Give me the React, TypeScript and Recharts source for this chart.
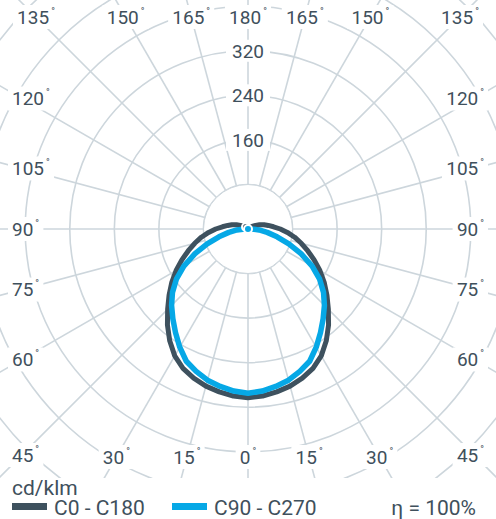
import React from "react";
import {
  RadarChart,
  Radar,
  PolarGrid,
  PolarAngleAxis,
  PolarRadiusAxis,
  Legend,
} from "recharts";

// gamma angles of the measurement, 0 = straight down, 180 = straight up
const gammaAngles = [
  0, 5, 10, 15, 20, 25, 30, 35, 40, 45, 50, 55, 60, 65, 70, 75, 80, 85, 90,
  95, 100, 105, 110, 115, 120, 125, 130, 135, 140, 145, 150, 155, 160, 165,
  170, 175, 180,
];

// cd/klm, C0 - C180 plane (symmetric, same values on both halves)
const planeC0 = [
  303, 301, 297, 292, 285, 276, 263, 245, 225, 204, 185, 167, 149, 131, 114,
  99, 85, 71, 58, 46, 37, 30, 22, 15, 10, 7, 5, 5, 4, 4, 4, 4, 3, 3, 3, 3, 3,
];
const planeC180 = planeC0;

// cd/klm, C90 - C270 plane
const planeC90 = [
  295, 292, 287, 281, 272, 262, 245, 227, 210, 194, 177, 157, 133, 105, 78, 54,
  35, 20, 6, 0, 0, 0, 0, 0, 0, 0, 0, 0, 0, 0, 0, 0, 0, 0, 0, 0, 0,
];
const planeC270 = planeC90;

const radiusTicks = [80, 160, 240, 320, 400, 480, 560, 640];
const labelledRadii = [160, 240, 320];
const gridAngles = [
  0, 15, 30, 45, 60, 75, 90, 105, 120, 135, 150, 165, 180, 195, 210, 225, 240,
  255, 270, 285, 300, 315, 330, 345,
];

const seriesNames = ["C0 - C180", "C90 - C270"];
const efficiency = "η = 100%";
const unitLabel = "cd/klm";

const DARK = "#3e515e";
const BLUE = "#06a8e6";
const GRID = "#cdd6dc";
const TEXT = "#3f505c";
const FONT = "Roboto, 'Liberation Sans', sans-serif";

const W = 496;
const H = 478;
const CX = 248;
const CY = 229;
const PX_PER_UNIT = 0.557;
const INNER = 80 * PX_PER_UNIT;
const OUTER = 640 * PX_PER_UNIT;

// left half: C180 / C270 going gamma 0 -> 180, right half: C0 / C90 coming back
const data = [
  ...gammaAngles.map((g, i) => ({
    key: `L${g}`,
    c0: planeC180[i],
    c90: planeC270[i],
  })),
  ...gammaAngles
    .slice(1, -1)
    .reverse()
    .map((g) => {
      const i = gammaAngles.indexOf(g);
      return { key: `R${g}`, c0: planeC0[i], c90: planeC90[i] };
    }),
];

const BOX = { left: 22, right: 474, top: 17, bottom: 457 };

function AngleTick(props: any) {
  const key: string = String(props.payload?.value ?? "");
  const side = key[0];
  const gamma = Number(key.slice(1));
  if (!key || gamma % 15 !== 0) return <g />;
  const rad = (gamma * Math.PI) / 180;
  const dx = (side === "L" ? -1 : 1) * Math.sin(rad);
  const dy = Math.cos(rad);
  const eps = 1e-9;
  const tx =
    dx < -eps ? (BOX.left - CX) / dx : dx > eps ? (BOX.right - CX) / dx : Infinity;
  const ty =
    dy < -eps ? (BOX.top - CY) / dy : dy > eps ? (BOX.bottom - CY) / dy : Infinity;
  const label = String(gamma);
  const w = label.length * 10.7 + 6;
  let x: number;
  let y: number;
  let anchor: "start" | "middle" | "end";
  let rx: number;
  if (ty <= tx) {
    x = CX + dx * ty;
    y = dy < 0 ? BOX.top : BOX.bottom;
    anchor = "middle";
    rx = x - w / 2;
  } else {
    y = CY + dy * tx;
    if (dx < 0) {
      x = 12;
      anchor = "start";
      rx = x;
    } else {
      x = 484;
      anchor = "end";
      rx = x - w;
    }
  }
  return (
    <g>
      <rect x={rx - 4} y={y - 12} width={w + 8} height={24} fill="#fff" />
      <text
        x={x}
        y={y}
        dy="0.36em"
        textAnchor={anchor}
        fill={TEXT}
        fontSize={19}
        fontFamily={FONT}
      >
        {label}
        <tspan fontSize={10} dy="-0.9em" dx="2">
          °
        </tspan>
      </text>
    </g>
  );
}

function RadiusTick(props: any) {
  const v = props.payload?.value;
  if (!labelledRadii.includes(v)) return <g />;
  return (
    <g>
      <rect x={props.x - 22} y={props.y - 11} width={44} height={22} fill="#fff" />
      <text
        x={props.x}
        y={props.y}
        dy="0.36em"
        textAnchor="middle"
        fill={TEXT}
        fontSize={19}
        fontFamily={FONT}
      >
        {v}
      </text>
    </g>
  );
}

function LegendBox({ payload }: any) {
  const items = payload ?? [];
  const positions = [12, 172];
  return (
    <svg width={W} height={45} style={{ display: "block" }}>
      <text x={12} y={21} fill={TEXT} fontSize={21} fontFamily={FONT}>
        {unitLabel}
      </text>
      {items.map((item: any, i: number) => (
        <g key={item.value}>
          <rect x={positions[i]} y={29} width={35} height={7} fill={item.color} />
          <text x={positions[i] + 42} y={41} fill={TEXT} fontSize={21} fontFamily={FONT}>
            {item.value}
          </text>
        </g>
      ))}
      <text x={476} y={41} textAnchor="end" fill={TEXT} fontSize={21} fontFamily={FONT}>
        {efficiency}
      </text>
    </svg>
  );
}

const chartProps = {
  width: W,
  height: H,
  data,
  cx: CX,
  cy: CY,
  outerRadius: OUTER,
  startAngle: -90,
  endAngle: -450,
  margin: { top: 0, right: 0, bottom: 0, left: 0 },
};

export default function App() {
  return (
    <div style={{ position: "absolute", left: 0, top: 0, width: W, height: 519, background: "#fff" }}>
      {/* grid and labels */}
      <div style={{ position: "absolute", left: 0, top: 0, zIndex: 1 }}>
        <RadarChart {...chartProps}>
          <PolarGrid gridType="circle" polarAngles={gridAngles} stroke={GRID} strokeWidth={1.6} />
          <PolarAngleAxis dataKey="key" axisLine={false} tickLine={false} tick={<AngleTick />} />
          <PolarRadiusAxis
            angle={90}
            type="number"
            domain={[0, 640]}
            allowDataOverflow
            ticks={radiusTicks}
            axisLine={false}
            tickLine={false}
            tick={<RadiusTick />}
          />
        </RadarChart>
      </div>
      {/* radial lines start at the first ring: blank the middle */}
      <div
        style={{
          position: "absolute",
          zIndex: 2,
          boxSizing: "border-box",
          left: CX - INNER - 0.8,
          top: CY - INNER - 0.8,
          width: 2 * INNER + 1.6,
          height: 2 * INNER + 1.6,
          borderRadius: "50%",
          border: `1.6px solid ${GRID}`,
          background: "#fff",
        }}
      />
      {/* the two curves */}
      <div style={{ position: "absolute", left: 0, top: 0, zIndex: 3 }}>
        <RadarChart {...chartProps}>
          <PolarAngleAxis dataKey="key" axisLine={false} tickLine={false} tick={false} />
          <PolarRadiusAxis
            angle={90}
            type="number"
            domain={[0, 640]}
            allowDataOverflow
            axisLine={false}
            tickLine={false}
            tick={false}
          />
          <Radar
            name={seriesNames[0]}
            dataKey="c0"
            stroke={DARK}
            strokeWidth={5}
            fill="none"
            dot={false}
            strokeLinejoin="round"
            isAnimationActive={false}
          />
          <Radar
            name={seriesNames[1]}
            dataKey="c90"
            stroke={BLUE}
            strokeWidth={5.5}
            fill="none"
            dot={false}
            strokeLinejoin="round"
            isAnimationActive={false}
          />
          <Legend
            content={<LegendBox />}
            wrapperStyle={{ position: "absolute", left: 0, top: 474, width: W, height: 45 }}
          />
        </RadarChart>
      </div>
    </div>
  );
}
